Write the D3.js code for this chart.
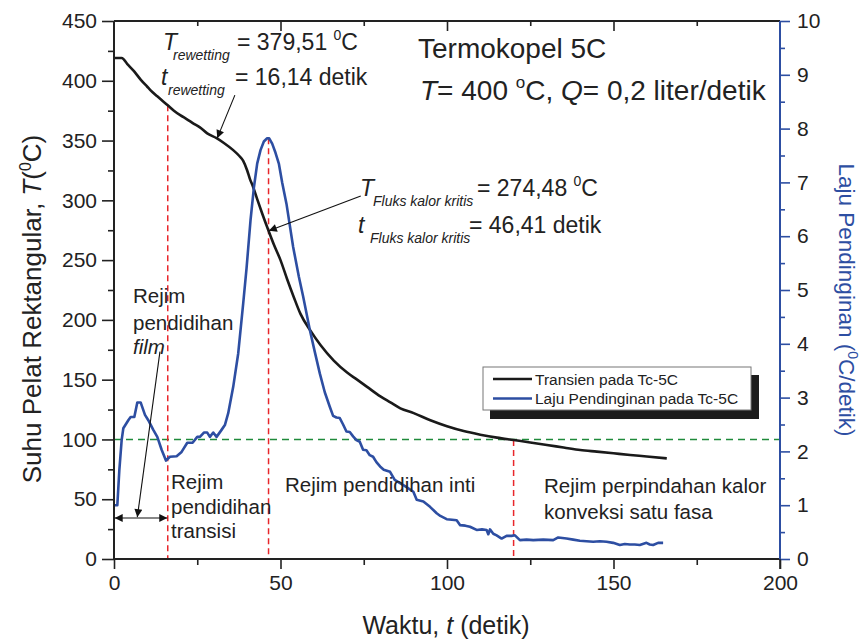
<!DOCTYPE html>
<html><head><meta charset="utf-8">
<script src="https://cdn.jsdelivr.net/npm/d3@7"></script>
<style>
html,body{margin:0;padding:0;background:#fff;}
svg text{font-family:"Liberation Sans",Arial,Helvetica,sans-serif;fill:#222;}
</style></head>
<body><svg id="c" width="864" height="641"></svg>
<script>
// ---- data ----
const tTemp = [0,2.3,4,6,8,10,11,13,16.14,18,20,21.8,24,25.8,28,30.8,33,35.8,37.5,38.8,40,40.8,41.8,43,44.5,46.41,48,50,52,54,56,59,62,66,70,73,76,80,83,86,90,95,100,105,110,115,120,125,130,135,140,145,150,155,160,166];
const temp = [419,419,414,408,401,395,392,387,379.5,375,371,368,364,361,356,352,348,342,337.5,333,325,318,311,301,289,274.5,263,250,234,219,205,191,179,166,156,150,144,136,131,126,122,116,111,107,104,101.5,99.5,97.5,95.3,93.3,91.2,89.8,88.4,87,85.8,84.2];

const tRate = [0.3,1.0,1.6,2.3,2.8,4.3,5.0,6.1,7.0,8.0,9.3,10.3,11.8,13.0,14.3,15.6,16.8,18.8,20.3,22.0,23.6,25.0,25.8,27.0,28.0,28.8,29.8,30.8,32.3,33.3,34.3,35.8,37.3,38.8,39.8,41.0,42.0,43.0,44.0,45.0,46.0,46.6,47.5,48.5,49.5,50.5,51.8,53.8,55.5,56.8,58.8,60.3,61.8,63.3,64.8,65.8,66.8,67.8,68.8,69.8,70.8,71.8,72.8,73.8,74.8,75.8,76.8,77.8,78.8,79.9,81.0,82.9,84.3,85.9,87.5,89.9,90.9,92.9,94.9,96.9,98.0,99.9,101.5,102.9,103.9,105.5,106.9,108.9,110.5,111.9,112.4,112.9,113.9,114.9,116.4,117.9,119.4,120.4,121.9,123.9,125.9,128.9,131.9,133.4,135.9,137.9,139.9,141.9,143.9,145.9,147.9,149.9,151.9,153.4,154.9,156.4,157.9,159.9,160.9,161.9,163.4,164.9];
const rate = [1.0,1.0,1.65,2.21,2.43,2.58,2.64,2.64,2.91,2.91,2.68,2.58,2.40,2.27,2.03,1.83,1.90,1.91,1.99,2.16,2.16,2.27,2.27,2.35,2.35,2.27,2.35,2.27,2.40,2.49,2.71,3.20,3.82,4.75,5.4,6.3,6.9,7.35,7.6,7.76,7.82,7.82,7.72,7.55,7.35,7.0,6.6,5.8,5.25,4.88,4.26,3.85,3.45,3.1,2.83,2.66,2.63,2.62,2.5,2.37,2.36,2.28,2.21,2.18,2.03,2.02,1.93,1.90,1.80,1.72,1.66,1.62,1.47,1.41,1.35,1.25,1.10,1.07,0.97,0.85,0.80,0.74,0.73,0.72,0.63,0.62,0.60,0.54,0.55,0.54,0.46,0.55,0.47,0.44,0.38,0.43,0.43,0.44,0.35,0.36,0.35,0.36,0.35,0.40,0.38,0.36,0.34,0.33,0.32,0.33,0.32,0.30,0.26,0.28,0.27,0.27,0.26,0.30,0.27,0.26,0.30,0.30];

const xTicks = [0,50,100,150,200];
const yTicks = [0,50,100,150,200,250,300,350,400,450];
const rTicks = [0,1,2,3,4,5,6,7,8,9,10];

const markTimes = [16.14, 46.41, 120];
const markTops  = [379.51, 352, 99.5];   // in °C (left axis units)
const refTemp = 100;

const seriesNames = ["Transien pada Tc-5C","Laju Pendinginan pada Tc-5C"];
const colBlack = "#1a1a1a", colBlue = "#2d4ea2", colRed = "#e8262b", colGreen = "#1f8a3b";

// ---- layout ----
const L = 114, R = 780, T = 21, B = 559;
const svg = d3.select("#c");
const x = d3.scaleLinear().domain([0,200]).range([L,R]);
const y = d3.scaleLinear().domain([0,450]).range([B,T]);
const yr = d3.scaleLinear().domain([0,10]).range([B,T]);

const defs = svg.append("defs");
defs.append("marker").attr("id","ah").attr("viewBox","0 0 10 10").attr("refX",10).attr("refY",5)
  .attr("markerWidth",14).attr("markerHeight",8).attr("markerUnits","userSpaceOnUse").attr("orient","auto-start-reverse")
  .append("path").attr("d","M0,0 L10,5 L0,10 Z").attr("fill","#111");

// reference lines
svg.append("line").attr("x1",x(0)).attr("x2",x(200)).attr("y1",y(refTemp)).attr("y2",y(refTemp))
  .attr("stroke",colGreen).attr("stroke-width",1.5).attr("stroke-dasharray","7,5");
markTimes.forEach((t,i)=>{
  svg.append("line").attr("x1",x(t)).attr("x2",x(t)).attr("y1",y(markTops[i])).attr("y2",y(0))
    .attr("stroke",colRed).attr("stroke-width",1.5).attr("stroke-dasharray","6,4");
});

// curves
const lineT = d3.line().x((d,i)=>x(tTemp[i])).y(d=>y(d)).curve(d3.curveMonotoneX);
const lineR = d3.line().x((d,i)=>x(tRate[i])).y(d=>yr(d));
svg.append("path").attr("d",lineT(temp)).attr("fill","none").attr("stroke",colBlack).attr("stroke-width",2.6).attr("stroke-linejoin","round");
svg.append("path").attr("d",lineR(rate)).attr("fill","none").attr("stroke",colBlue).attr("stroke-width",2.6).attr("stroke-linejoin","round");

// axes
const fs = 21;
const gx = svg.append("g").attr("transform",`translate(0,${B})`)
  .call(d3.axisBottom(x).tickValues(xTicks).tickSize(10).tickPadding(6));
const gxm = svg.append("g").attr("transform",`translate(0,${B})`)
  .call(d3.axisBottom(x).tickValues([25,75,125,175]).tickSize(6).tickFormat(""));
const gt = svg.append("g").attr("transform",`translate(0,${T})`)
  .call(d3.axisBottom(x).tickValues([50,100,150]).tickSize(10).tickFormat(""));
const gtm = svg.append("g").attr("transform",`translate(0,${T})`)
  .call(d3.axisBottom(x).tickValues([25,75,125,175]).tickSize(5).tickFormat(""));
const gy = svg.append("g").attr("transform",`translate(${L},0)`)
  .call(d3.axisLeft(y).tickValues(yTicks).tickSize(12).tickPadding(5));
const gym = svg.append("g").attr("transform",`translate(${L},0)`)
  .call(d3.axisLeft(y).tickValues(d3.range(25,450,50)).tickSize(6).tickFormat(""));
const gr = svg.append("g").attr("transform",`translate(${R},0)`)
  .call(d3.axisRight(yr).tickValues(rTicks).tickSize(10).tickPadding(7));
const grm = svg.append("g").attr("transform",`translate(${R},0)`)
  .call(d3.axisRight(yr).tickValues(d3.range(0.5,10,1)).tickSize(5).tickFormat(""));

[gx,gxm,gt,gtm,gy,gym].forEach(g=>{
  g.selectAll(".domain").remove();
  g.selectAll(".tick line").attr("stroke","#222").attr("stroke-width",1.6);
  g.selectAll(".tick text").attr("font-size",fs).attr("fill","#222").style("font-family","'Liberation Sans',Arial,sans-serif");
});
[gr,grm].forEach(g=>{
  g.selectAll(".domain").remove();
  g.selectAll(".tick line").attr("stroke",colBlue).attr("stroke-width",1.6);
  g.selectAll(".tick text").attr("font-size",fs).attr("fill",colBlue).style("font-family","'Liberation Sans',Arial,sans-serif");
});
// frame
svg.append("line").attr("x1",L).attr("x2",R).attr("y1",B).attr("y2",B).attr("stroke","#222").attr("stroke-width",2);
svg.append("line").attr("x1",L).attr("x2",R).attr("y1",T).attr("y2",T).attr("stroke","#222").attr("stroke-width",2);
svg.append("line").attr("x1",L).attr("x2",L).attr("y1",T).attr("y2",B).attr("stroke","#222").attr("stroke-width",2);
svg.append("line").attr("x1",R).attr("x2",R).attr("y1",T).attr("y2",B+1).attr("stroke",colBlue).attr("stroke-width",2);
svg.append("line").attr("x1",R).attr("x2",R).attr("y1",B).attr("y2",B+10).attr("stroke","#222").attr("stroke-width",1.6);

// axis titles
const xt = svg.append("text").attr("x",446).attr("y",634).attr("text-anchor","middle").attr("font-size",25);
xt.append("tspan").text("Waktu, ");
xt.append("tspan").attr("font-style","italic").text("t");
xt.append("tspan").text(" (detik)");

const yt = svg.append("text").attr("transform","translate(41,309) rotate(-90)").attr("text-anchor","middle").attr("font-size",26);
yt.append("tspan").text("Suhu Pelat Rektangular, ");
yt.append("tspan").attr("font-style","italic").text("T");
yt.append("tspan").text("(");
yt.append("tspan").attr("font-size",16).attr("dy",-10).text("0");
yt.append("tspan").attr("dy",10).text("C)");

const rt = svg.append("text").attr("transform","translate(839,300) rotate(90)").attr("text-anchor","middle").attr("font-size",22.5).attr("fill",colBlue).style("fill",colBlue);
rt.append("tspan").text("Laju Pendinginan (");
rt.append("tspan").attr("font-size",14).attr("dy",-9).text("0");
rt.append("tspan").attr("dy",9).text("C/detik)");

// title annotation
svg.append("text").attr("x",418).attr("y",58).attr("font-size",28).text("Termokopel 5C");
const l2 = svg.append("text").attr("x",420).attr("y",100).attr("font-size",28);
l2.append("tspan").attr("font-style","italic").text("T");
l2.append("tspan").text("= 400 ");
l2.append("tspan").attr("font-size",17).attr("dy",-12).text("o");
l2.append("tspan").attr("dy",12).text("C, ");
l2.append("tspan").attr("font-style","italic").text("Q");
l2.append("tspan").text("= 0,2 liter/detik");

// sub-scripted annotations
function annot(xs, base, sym, sub, subX, valX, val, deg){
  const t = svg.append("text").attr("font-size",23);
  t.append("tspan").attr("x",xs).attr("y",base).attr("font-style","italic").text(sym);
  t.append("tspan").attr("x",subX).attr("y",base+10).attr("font-size",14).attr("font-style","italic").text(sub);
  t.append("tspan").attr("x",valX).attr("y",base).text(val);
  if(deg){
    t.append("tspan").attr("font-size",14).attr("dy",-10).text("0");
    t.append("tspan").attr("dy",10).text("C");
  }
}
annot(163,50,"T","rewetting",173,237,"= 379,51 ",true);
annot(161,85,"t","rewetting",168,235,"= 16,14 detik",false);
annot(360,196,"T","Fluks kalor kritis",373,477,"= 274,48 ",true);
annot(358,233,"t","Fluks kalor kritis",370,469,"= 46,41 detik",false);

// regime labels
function multi(xp, baselines, lines, italicIdx){
  const t = svg.append("text").attr("font-size",20.5);
  lines.forEach((s,i)=>{
    t.append("tspan").attr("x",xp).attr("y",baselines[i]).attr("font-style",i===italicIdx?"italic":null).text(s);
  });
}
multi(133,[303,330,354],["Rejim","pendidihan","film"],2);
multi(171,[489,514,538],["Rejim","pendidihan","transisi"],-1);
multi(285,[492],["Rejim pendidihan inti"],-1);
multi(544,[493,519],["Rejim perpindahan kalor","konveksi satu fasa"],-1);

// arrows
function arrow(t1,T1,t2,T2,both){
  const p = svg.append("line").attr("x1",x(t1)).attr("y1",y(T1)).attr("x2",x(t2)).attr("y2",y(T2))
    .attr("stroke","#111").attr("stroke-width",1.1).attr("marker-end","url(#ah)");
  if(both) p.attr("marker-start","url(#ah)");
}
arrow(36.3,388,31.0,352,false);
arrow(74.1,303.6,46.5,274.5,false);
arrow(13.8,173.5,7.0,35,false);
arrow(0.2,34.3,16.0,34.3,true);

// legend
const lg = svg.append("g");
lg.append("rect").attr("x",490).attr("y",375).attr("width",269).attr("height",44).attr("fill","#1c1c1c");
lg.append("rect").attr("x",483).attr("y",367).attr("width",268).attr("height",43).attr("fill","#fff").attr("stroke","#777").attr("stroke-width",1);
const legCols = [colBlack,colBlue];
seriesNames.forEach((n,i)=>{
  const yy = 379 + i*19.5;
  lg.append("line").attr("x1",493).attr("x2",532).attr("y1",yy).attr("y2",yy).attr("stroke",legCols[i]).attr("stroke-width",2.6);
  lg.append("text").attr("x",535).attr("y",yy+5.5).attr("font-size",15.5).text(n);
});
</script></body></html>
